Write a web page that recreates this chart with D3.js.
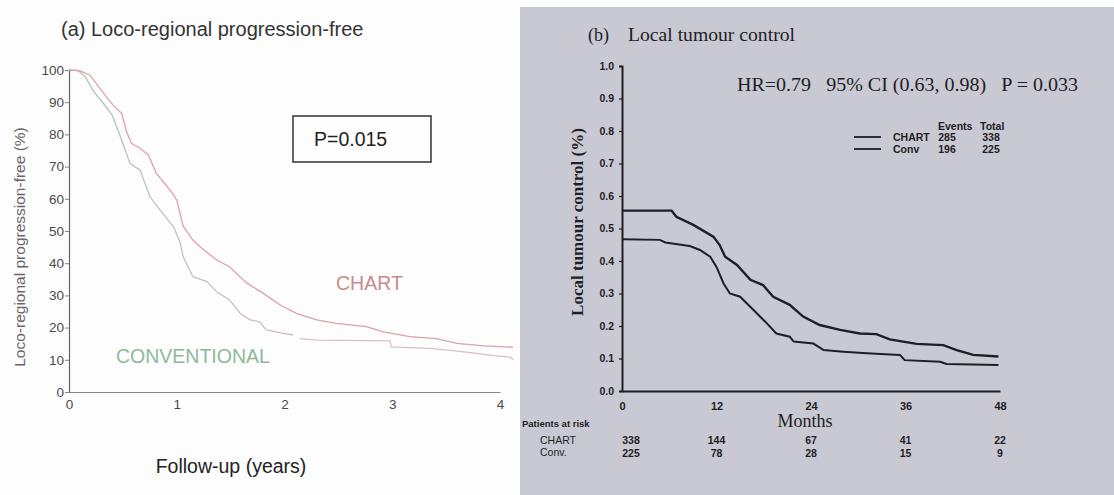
<!DOCTYPE html>
<html>
<head>
<meta charset="utf-8">
<script src="https://cdn.jsdelivr.net/npm/d3@7"></script>
<style>
  body { margin: 0; background: #fdfdfd; }
  svg { display: block; }
</style>
</head>
<body>
<svg id="chart" width="1114" height="495"></svg>
<script>
// ---- panel (a) data: loco-regional progression-free (%) vs years
const aChartYears = [0, 0.1, 0.195, 0.32, 0.41, 0.49, 0.535, 0.58, 0.66, 0.736, 0.81, 0.95, 1.0, 1.06, 1.15, 1.216, 1.37, 1.49, 1.65, 1.8, 1.96, 2.11, 2.3, 2.48, 2.76, 2.92, 3.16, 3.41, 3.6, 3.85, 4.12];
const aChartPct   = [100, 99.8, 98.4, 92.8, 89.1, 86.5, 80.8, 77.2, 75.7, 73.6, 67.9, 62.2, 59.6, 51.5, 47.2, 45.1, 41.0, 38.9, 33.8, 30.7, 27.0, 24.4, 22.4, 21.3, 20.3, 18.7, 17.2, 16.6, 15.1, 14.3, 13.9];
const aConvYears  = [0, 0.086, 0.15, 0.23, 0.32, 0.4, 0.46, 0.5, 0.566, 0.66, 0.75, 0.845, 0.97, 1.03, 1.06, 1.15, 1.28, 1.37, 1.49, 1.59, 1.68, 1.77, 1.83, 1.99, 2.08];
const aConvPct    = [100, 99.8, 97.9, 93.3, 89.6, 86.0, 80.8, 77.2, 71.0, 68.9, 60.7, 56.5, 51.3, 46.5, 42.0, 35.8, 34.3, 31.1, 28.6, 24.4, 22.4, 21.8, 19.3, 18.2, 17.7];
const aConvYears2 = [2.14, 2.3, 2.98, 2.99, 3.38, 3.69, 3.94, 4.1, 4.12];
const aConvPct2   = [16.6, 16.1, 15.9, 14.0, 13.5, 12.4, 11.3, 10.8, 9.9];
const aXTicks = [0, 1, 2, 3, 4];
const aYTicks = [0, 10, 20, 30, 40, 50, 60, 70, 80, 90, 100];

// ---- panel (b) data: local tumour control vs months
const bChartMonths = [0, 6.3, 6.9, 9.05, 11.6, 12.4, 13.1, 14.6, 16.3, 17.9, 19.2, 21.3, 23.0, 25.1, 27.7, 30.2, 32.3, 34.0, 37.4, 40.8, 42.5, 44.6, 47.8];
const bChartCtl    = [0.555, 0.555, 0.536, 0.511, 0.475, 0.449, 0.413, 0.388, 0.342, 0.326, 0.29, 0.265, 0.229, 0.203, 0.188, 0.177, 0.175, 0.159, 0.145, 0.141, 0.126, 0.111, 0.106];
const bConvMonths  = [0, 4.8, 5.5, 8.6, 9.9, 11.2, 12.0, 12.9, 13.7, 15.0, 16.7, 18.4, 19.6, 21.3, 21.8, 24.3, 25.6, 28.1, 31.1, 35.3, 35.9, 40.4, 41.2, 47.8];
const bConvCtl     = [0.467, 0.465, 0.457, 0.446, 0.434, 0.413, 0.382, 0.331, 0.3, 0.29, 0.249, 0.208, 0.177, 0.167, 0.152, 0.146, 0.126, 0.121, 0.116, 0.111, 0.095, 0.09, 0.083, 0.08];
const bXTicks = [0, 12, 24, 36, 48];
const bYTicks = [0, 0.1, 0.2, 0.3, 0.4, 0.5, 0.6, 0.7, 0.8, 0.9, 1.0];
const riskMonths = [0, 12, 24, 36, 48];
const riskChart  = [338, 144, 67, 41, 22];
const riskConv   = [225, 78, 28, 15, 9];
const legendRows = ["CHART", "Conv"];
const legendEvents = [285, 196];
const legendTotal  = [338, 225];

const svg = d3.select("#chart");
const sans = "'Liberation Sans', Arial, sans-serif";
const serif = "'Liberation Serif', 'Times New Roman', serif";
const narrow = "'Liberation Sans Narrow', 'Liberation Sans', Arial, sans-serif";

// ================= panel (a) =================
let ga = svg.append("g");

let xa = d3.scaleLinear().domain([0, 4]).range([69, 500]);
let ya = d3.scaleLinear().domain([0, 100]).range([392, 70]);

// gradient for the conventional curve (greenish at top, pinkish lower)
let defs = svg.append("defs");
let grad = defs.append("linearGradient")
    .attr("id", "convGrad")
    .attr("gradientUnits", "userSpaceOnUse")
    .attr("x1", 0).attr("y1", ya(100)).attr("x2", 0).attr("y2", ya(10));
grad.append("stop").attr("offset", "0%").attr("stop-color", "#a9c8b2");
grad.append("stop").attr("offset", "55%").attr("stop-color", "#bcc4ba");
grad.append("stop").attr("offset", "100%").attr("stop-color", "#d8bac0");

ga.append("g")
    .attr("transform", "translate(69,0)")
    .call(d3.axisLeft(ya).tickValues(aYTicks).tickSize(4).tickPadding(1))
    .call(g => g.select(".domain").attr("stroke", "#666").attr("stroke-width", 1.2))
    .call(g => g.selectAll(".tick line").attr("stroke", "#888"))
    .call(g => g.selectAll("text").attr("fill", "#4a4a4a").style("font-family", sans).style("font-size", "13.5px"));

ga.append("g")
    .attr("transform", "translate(0,392)")
    .call(d3.axisBottom(xa).tickValues(aXTicks).tickSize(0).tickPadding(7).tickFormat(d3.format("d")))
    .call(g => g.select(".domain").attr("stroke", "#888").attr("stroke-width", 1.2))
    .call(g => g.selectAll("text").attr("fill", "#4a4a4a").style("font-family", sans).style("font-size", "13.5px"));

let lineA = d3.line().x(d => xa(d[0])).y(d => ya(d[1]));

ga.append("path")
    .datum(aConvYears.map((t, i) => [t, aConvPct[i]]))
    .attr("d", lineA).attr("fill", "none")
    .attr("stroke", "url(#convGrad)").attr("stroke-width", 1.3);
ga.append("path")
    .datum(aConvYears2.map((t, i) => [t, aConvPct2[i]]))
    .attr("d", lineA).attr("fill", "none")
    .attr("stroke", "#d6c0c5").attr("stroke-width", 1.3);
ga.append("path")
    .datum(aChartYears.map((t, i) => [t, aChartPct[i]]))
    .attr("d", lineA).attr("fill", "none")
    .attr("stroke", "#dca2a8").attr("stroke-width", 1.3);

ga.append("text")
    .attr("x", 61).attr("y", 36)
    .style("font-family", sans).style("font-size", "20px").attr("fill", "#333")
    .text("(a) Loco-regional progression-free");

ga.append("text")
    .attr("transform", "translate(25,247) rotate(-90)")
    .style("text-anchor", "middle")
    .style("font-family", sans).style("font-size", "15.5px").attr("fill", "#666")
    .text("Loco-regional progression-free (%)");

ga.append("text")
    .attr("x", 231).attr("y", 473)
    .style("text-anchor", "middle")
    .style("font-family", sans).style("font-size", "19.5px").attr("fill", "#222")
    .text("Follow-up (years)");

ga.append("rect")
    .attr("x", 293).attr("y", 116).attr("width", 138).attr("height", 46)
    .attr("fill", "none").attr("stroke", "#333").attr("stroke-width", 1.5);
ga.append("text")
    .attr("x", 314).attr("y", 146)
    .style("font-family", sans).style("font-size", "19.5px").attr("fill", "#222")
    .text("P=0.015");

ga.append("text")
    .attr("x", 336).attr("y", 290)
    .style("font-family", sans).style("font-size", "19.5px").attr("fill", "#c98a90")
    .text("CHART");
ga.append("text")
    .attr("x", 116).attr("y", 363)
    .style("font-family", sans).style("font-size", "19.5px").attr("fill", "#8fb999")
    .text("CONVENTIONAL");

// ================= panel (b) =================
let gb = svg.append("g");

gb.append("rect")
    .attr("x", 520).attr("y", 7).attr("width", 594).attr("height", 488)
    .attr("fill", "#c9c9d3");

let xb = d3.scaleLinear().domain([0, 48]).range([622, 1000]);
let yb = d3.scaleLinear().domain([0, 1]).range([391, 66]);

gb.append("g")
    .attr("transform", "translate(622,0)")
    .call(d3.axisLeft(yb).tickValues(bYTicks).tickSize(3).tickPadding(5).tickFormat(d3.format(".1f")))
    .call(g => g.select(".domain").attr("stroke", "#1e1e24").attr("stroke-width", 2))
    .call(g => g.selectAll(".tick line").attr("stroke", "#1e1e24").attr("stroke-width", 1.2))
    .call(g => g.selectAll("text").attr("fill", "#1e1e24").style("font-family", narrow)
        .style("font-weight", "bold").style("font-size", "10.5px"));

gb.append("g")
    .attr("transform", "translate(0,391)")
    .call(d3.axisBottom(xb).tickValues(bXTicks).tickSize(0).tickPadding(11))
    .call(g => g.select(".domain").attr("stroke", "#1e1e24").attr("stroke-width", 2.2))
    .call(g => g.selectAll("text").attr("fill", "#1e1e24").style("font-family", narrow)
        .style("font-weight", "bold").style("font-size", "11px"));

let lineB = d3.line().x(d => xb(d[0])).y(d => yb(d[1]));

gb.append("path")
    .datum(bChartMonths.map((m, i) => [m, bChartCtl[i]]))
    .attr("d", lineB).attr("fill", "none")
    .attr("stroke", "#1e1e24").attr("stroke-width", 2.4);
gb.append("path")
    .datum(bConvMonths.map((m, i) => [m, bConvCtl[i]]))
    .attr("d", lineB).attr("fill", "none")
    .attr("stroke", "#1e1e24").attr("stroke-width", 2);

gb.append("text")
    .attr("x", 588).attr("y", 41)
    .style("font-family", serif).style("font-size", "18px").attr("fill", "#1e1e24")
    .text("(b)");
gb.append("text")
    .attr("x", 628).attr("y", 41)
    .style("font-family", serif).style("font-size", "18px").attr("fill", "#1e1e24")
    .attr("textLength", 167).attr("lengthAdjust", "spacingAndGlyphs")
    .text("Local tumour control");

gb.append("text")
    .attr("x", 737).attr("y", 91)
    .style("font-family", serif).style("font-size", "19px").attr("fill", "#1e1e24")
    .attr("xml:space", "preserve")
    .attr("textLength", 341).attr("lengthAdjust", "spacingAndGlyphs")
    .text("HR=0.79   95% CI (0.63, 0.98)   P = 0.033");

gb.append("text")
    .attr("transform", "translate(583,222) rotate(-90)")
    .style("text-anchor", "middle")
    .style("font-family", serif).style("font-size", "17px").style("font-weight", "bold").attr("fill", "#1e1e24")
    .text("Local tumour control (%)");

gb.append("text")
    .attr("x", 805).attr("y", 427)
    .style("text-anchor", "middle")
    .style("font-family", serif).style("font-size", "18px").attr("fill", "#1e1e24")
    .text("Months");

// legend
let leg = gb.append("g").style("font-family", narrow).style("font-weight", "bold")
    .style("font-size", "10.5px").attr("fill", "#1e1e24");
leg.append("text").attr("x", 938).attr("y", 130).text("Events");
leg.append("text").attr("x", 980).attr("y", 130).text("Total");
legendRows.forEach((name, i) => {
  let y = 141 + i * 12;
  leg.append("line").attr("x1", 854).attr("x2", 881).attr("y1", y - 4).attr("y2", y - 4)
      .attr("stroke", "#1e1e24").attr("stroke-width", 1.8);
  leg.append("text").attr("x", 893).attr("y", y).text(name);
  leg.append("text").attr("x", 947).attr("y", y).style("text-anchor", "middle").text(legendEvents[i]);
  leg.append("text").attr("x", 991).attr("y", y).style("text-anchor", "middle").text(legendTotal[i]);
});

// patients at risk
let risk = gb.append("g").style("font-family", narrow).style("font-weight", "bold")
    .style("font-size", "10.5px").attr("fill", "#1e1e24");
risk.append("text").attr("x", 522).attr("y", 427).style("font-size", "9.5px").text("Patients at risk");
risk.append("text").attr("x", 540).attr("y", 444).style("font-weight", "normal").text("CHART");
risk.append("text").attr("x", 540).attr("y", 456).style("font-weight", "normal").text("Conv.");
riskMonths.forEach((m, i) => {
  let x = xb(m) + (i === 0 ? 9 : 0);
  risk.append("text").attr("x", x).attr("y", 444).style("text-anchor", "middle").text(riskChart[i]);
  risk.append("text").attr("x", x).attr("y", 457).style("text-anchor", "middle").text(riskConv[i]);
});
</script>
</body>
</html>
